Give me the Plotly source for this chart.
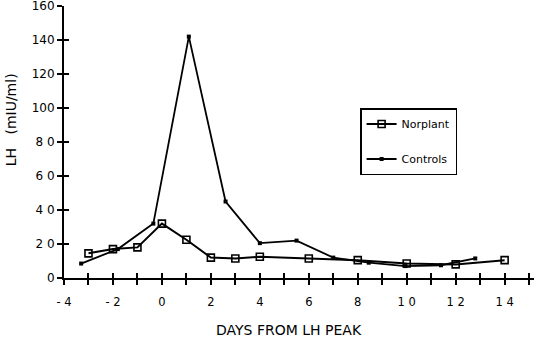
import plotly.graph_objects as go

# LH concentration around the LH peak
norplant_days = [-3, -2, -1, 0, 1, 2, 3, 4, 6, 8, 10, 12, 14]
norplant_lh = [14.5, 17, 18, 32, 22.5, 12, 11.5, 12.5, 11.5, 10.5, 8.5, 8, 10.5]

control_days = [-3.3, -1.8, -0.35, 1.1, 2.6, 4.0, 5.5, 7.0, 8.45, 9.95, 11.4, 12.8]
control_lh = [8.5, 17, 32, 142, 45, 20.5, 22, 12, 9, 7, 7.5, 11.5]

x_tickvals = list(range(-4, 16))
x_ticktext = ["- 4", "", "- 2", "", "0", "", "2", "", "4", "", "6", "", "8", "",
              "1 0", "", "1 2", "", "1 4", ""]
y_tickvals = [0, 20, 40, 60, 80, 100, 120, 140, 160]
y_ticktext = ["0", "2 0", "4 0", "6 0", "8 0", "100", "120", "140", "160"]

FONT = "DejaVu Sans, Verdana, sans-serif"
NBSP = "\u00a0"

fig = go.Figure()
fig.add_trace(go.Scatter(
    x=norplant_days, y=norplant_lh, name="Norplant", mode="lines+markers",
    legendgroup="norplant",
    line=dict(color="black", width=2),
    marker=dict(symbol="square-open", size=7, color="black", line=dict(width=1.6)),
))
fig.add_trace(go.Scatter(
    x=control_days, y=control_lh, name="Controls", mode="lines+markers",
    legendgroup="controls",
    line=dict(color="black", width=1.8),
    marker=dict(symbol="square", size=4, color="black"),
))

x_range = [-4, 15.2]
y_range = [0, 160]

axis_common = dict(showgrid=False, zeroline=False, showline=True,
                   linecolor="black", linewidth=2, tickcolor="black",
                   tickwidth=2, ticklen=5)

fig.update_layout(
    width=534, height=342,
    margin=dict(l=64, r=0, t=6, b=64),
    paper_bgcolor="white", plot_bgcolor="white",
    font=dict(family=FONT, size=12, color="black"),
    showlegend=True,
    legend=dict(
        x=0.63, y=0.625, xanchor="left", yanchor="top",
        bordercolor="black", borderwidth=1.5, bgcolor="white",
        font=dict(family=FONT, size=11, color="black"),
        itemwidth=30, traceorder="grouped", tracegroupgap=16,
    ),
    xaxis=dict(range=x_range, tickmode="array", tickvals=x_tickvals,
               ticktext=x_ticktext, ticks="outside", ticklabelstandoff=7,
               tickfont=dict(size=11.5), **axis_common),
    yaxis=dict(range=y_range, tickmode="array", tickvals=y_tickvals,
               ticktext=y_ticktext, ticks="outside", ticklabeloverflow="allow",
               tickfont=dict(size=12), **axis_common),
    xaxis2=dict(range=x_range, overlaying="x", anchor="y", side="bottom",
                tickmode="array", tickvals=x_tickvals, ticks="inside",
                showticklabels=False, **axis_common),
    yaxis2=dict(range=y_range, overlaying="y", anchor="x", side="left",
                tickmode="array", tickvals=y_tickvals, ticks="inside",
                showticklabels=False, **axis_common),
    annotations=[
        dict(text="DAYS FROM LH PEAK", xref="paper", yref="paper",
             x=0.478, y=-0.228, xanchor="center", yanchor="bottom",
             showarrow=False, font=dict(family=FONT, size=14)),
        dict(text="LH" + NBSP * 3 + "(mIU/ml)", xref="paper", yref="paper",
             x=-0.134, y=0.58, xanchor="left", yanchor="middle",
             textangle=-90, showarrow=False, font=dict(family=FONT, size=14)),
    ],
)

# invisible trace so the overlay axes are drawn
fig.add_trace(go.Scatter(x=[None], y=[None], xaxis="x2", yaxis="y2",
                         showlegend=False, hoverinfo="skip"))

fig.write_html("out.html")
